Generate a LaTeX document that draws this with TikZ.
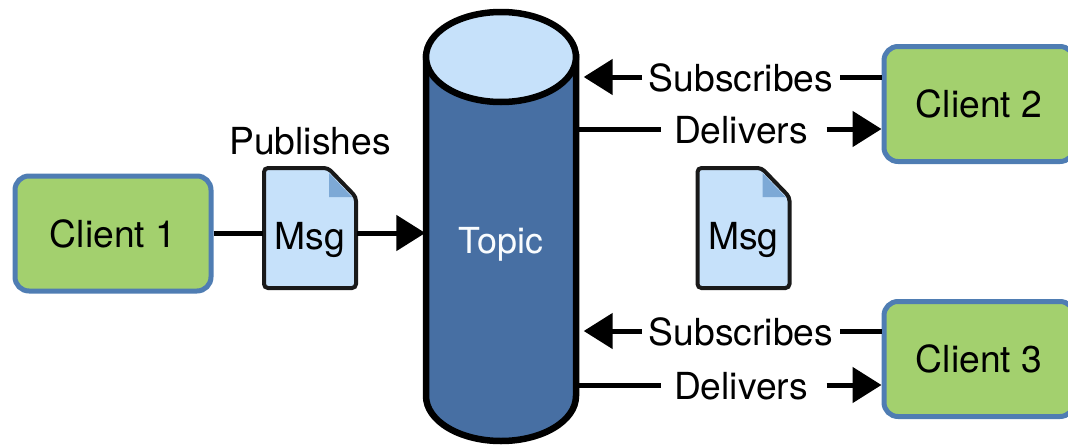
\documentclass[tikz,border=0pt]{standalone}
\usepackage{fontspec}
\setmainfont{TeX Gyre Heros}
\usetikzlibrary{arrows.meta}
\definecolor{clientgreen}{HTML}{A3D06E}
\definecolor{clientblue}{HTML}{4F7DB3}
\definecolor{paleblue}{HTML}{C6E1FA}
\definecolor{foldblue}{HTML}{7DA9D6}
\definecolor{topicblue}{HTML}{476FA3}
\tikzset{
  client/.style={draw=clientblue, line width=.05cm, fill=clientgreen, rounded corners=.14cm, minimum width=1.96cm, minimum height=1.15cm},
  lbl/.style={inner xsep=.06cm, inner ysep=0pt, text height=.33cm, text depth=.04cm},
  link/.style={line width=.05cm},
  flow/.style={line width=.05cm, -{Triangle[length=.29cm,width=.35cm]}},
  msgsheet/.style={draw=black!90, line width=.04cm, fill=paleblue, rounded corners=.04cm}
}
\newcommand{\msgdoc}[3]{%
  \begin{scope}[shift={(#2,#3)}]
    \draw[msgsheet] (-.46,.65) -- (.18,.65) -- (.46,.36) -- (.46,-.55) -- (-.46,-.55) -- cycle;
    \fill[foldblue] (.19,.60) -- (.42,.36) -- (.19,.36) -- cycle;
  \end{scope}
  \node[lbl, inner xsep=0pt, text height=.37cm, minimum width=.92cm] (#1) at (#2,#3) {Msg};
}
\begin{document}
\fontsize{10.6}{12}\selectfont
\begin{tikzpicture}
\clip (0,0) rectangle (10.68,4.44);
% topic cylinder
\draw[line width=.065cm, fill=topicblue] (4.26,3.87) -- (4.26,.48) arc[start angle=180, end angle=360, x radius=.75, y radius=.45] -- (5.76,3.87) -- cycle;
\draw[line width=.065cm, fill=paleblue] (5.01,3.87) ellipse[x radius=.75, y radius=.45];
\node[text=white!90!paleblue, font=\fontsize{10.2}{12}\selectfont, minimum width=1.5cm, inner xsep=0pt] (topic) at (5.01,2.00) {Topic};
% left side
\node[client] (client1) at (1.13,2.105) {Client 1};
\msgdoc{msg1}{3.10}{2.11}
\node (publishes) at (3.10,3.03) {Publishes};
\draw[link] (client1.east |- msg1.west) -- (msg1.west);
\draw[flow] (msg1.east) -- (topic.west |- msg1.east);
% right side
\msgdoc{msg2}{7.435}{2.11}
\foreach \n/\ysub/\ydel/\yc in {2/3.67/3.15/3.40, 3/1.13/.59/.85} {
  \node[client, minimum width=1.9cm] (client\n) at (9.79,\yc) {Client \n};
  \node[lbl] (sub\n) at (7.41,\ysub) {Subscribes};
  \node[lbl, minimum width=1.58cm] (del\n) at (7.41,\ydel) {Delivers};
  \draw[link] (client\n.west |- sub\n.east) -- (sub\n.east);
  \draw[flow] (sub\n.west) -- ([xshift=.07cm]topic.east |- sub\n.west);
  \draw[link] (topic.east |- del\n.west) -- (del\n.west);
  \draw[flow] ([xshift=.06cm]del\n.east) -- (client\n.west |- del\n.east);
}
\end{tikzpicture}
\end{document}
